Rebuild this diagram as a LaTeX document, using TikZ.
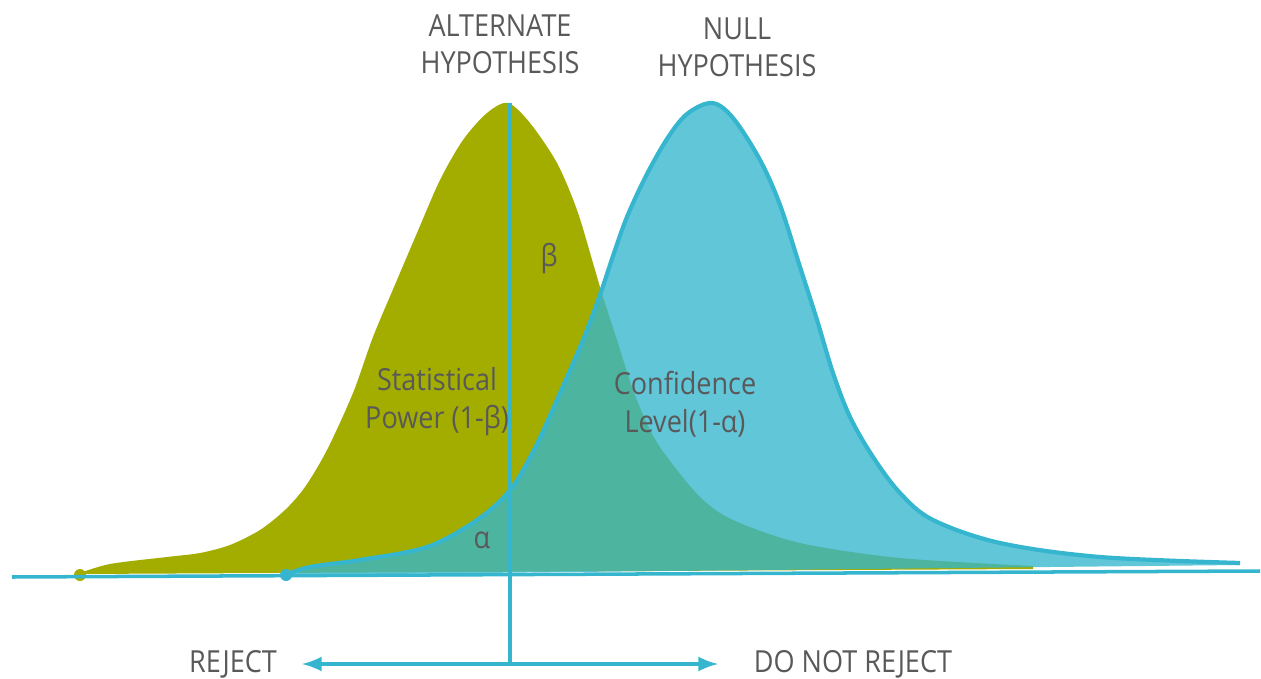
\documentclass[tikz,border=0pt]{standalone}
\usepackage{fontspec}
\setmainfont{Open Sans}[FakeStretch=0.89]
\usepackage{tikz}
\usetikzlibrary{arrows,positioning}

\definecolor{altgreen}{RGB}{163,173,0}
\definecolor{nullblue}{RGB}{54,182,206}
\definecolor{labelgray}{RGB}{89,89,89}

\tikzset{
  altcurve/.style={fill=altgreen, draw=none},
  nullcurve/.style={fill=nullblue, fill opacity=0.78, draw=none},
  nullline/.style={draw=nullblue, line width=2.4pt, line join=round},
  axisline/.style={draw=nullblue, line width=2pt},
  lbl/.style={text=labelgray, font=\fontsize{17.3}{21.5}\selectfont,
    align=center, inner sep=0pt, anchor=base},
}

\begin{document}
\begin{tikzpicture}[x=0.02cm, y=-0.02cm]
  \useasboundingbox (0,0) rectangle (1261,679);

  % Alternate hypothesis
  \fill[altcurve] plot[smooth, tension=0.5] coordinates {
    (77,574) (110,564) (167,557) (200,553) (230,545) (260,530) (285,510)
    (305,487) (327,450) (353,393) (373,337) (397,280) (417,233) (440,180)
    (463,140) (487,113) (508,103) (530,123) (557,163) (577,210) (593,263)
    (603,297) (617,340) (633,390) (650,430) (667,457) (700,497) (733,520)
    (800,543) (900,558) (1033,566)} -- (1033,569) -- (80,574) -- cycle;
  \fill[altgreen] (80,575) circle (6);

  % Null hypothesis
  \fill[nullcurve] plot[smooth, tension=0.55] coordinates {
    (285,575) (310,567) (360,560) (427,547) (477,520) (510,490) (535,448)
    (560,393) (583,340) (600,295) (613,256) (627,217) (646,176) (667,139)
    (687,114) (712,103) (733,118) (760,160) (780,205) (800,267) (817,320)
    (833,373) (850,417) (873,457) (900,493) (933,520) (1000,543) (1100,557)
    (1240,563)} -- (1240,565) -- (288,575) -- cycle;
  \draw[nullline] plot[smooth, tension=0.55] coordinates {
    (285,575) (310,567) (360,560) (427,547) (477,520) (510,490) (535,448)
    (560,393) (583,340) (600,295) (613,256) (627,217) (646,176) (667,139)
    (687,114) (712,103) (733,118) (760,160) (780,205) (800,267) (817,320)
    (833,373) (850,417) (873,457) (900,493) (933,520) (1000,543) (1100,557)
    (1240,563)};
  \fill[nullblue] (286,575) circle (6);

  % axis and decision line
  \coordinate (axl) at (12,577);
  \coordinate (axr) at (1260,571);
  \coordinate (crit) at (510,103);
  \coordinate (split) at (510,664);
  \coordinate (rejtip) at (302,664);
  \coordinate (keeptip) at (718,664);
  \draw[axisline] (axl) -- (axr);
  \draw[axisline] (crit) -- (split);
  \draw[axisline, line width=2.8pt, latex-latex] (rejtip) -- (keeptip);

  % labels
  \node[lbl] (alt) at (500,74) {ALTERNATE\\HYPOTHESIS};
  \node[lbl] (null) at (737,77) {NULL\\HYPOTHESIS};
  \node[lbl] (beta) at (549,266) {β};
  \node[lbl] (alpha) at (482,548) {α};
  \node[lbl] (power) at (437,428) {Statistical\\Power (1-β)};
  \node[lbl] (conf) at (685,432) {Confidence\\Level(1-α)};
  \node[lbl] (reject) at (233,672) {REJECT};
  \node[lbl] (keep) at (853,672) {DO NOT REJECT};
\end{tikzpicture}
\end{document}
